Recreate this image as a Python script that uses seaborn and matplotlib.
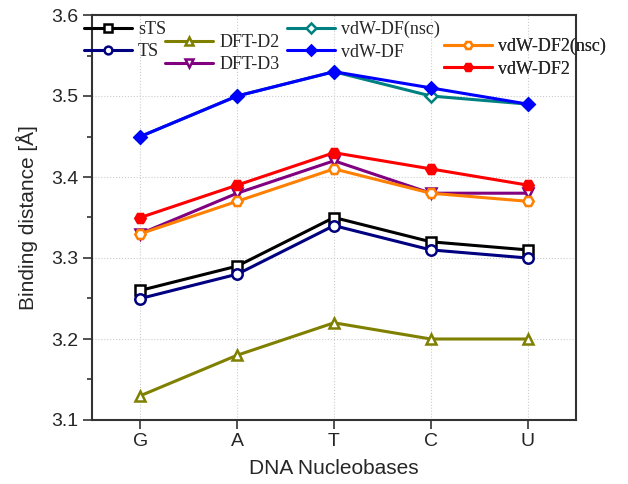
import numpy as np
import pandas as pd
import seaborn as sns
import matplotlib.pyplot as plt
from matplotlib.ticker import MultipleLocator

bases = ["G", "A", "T", "C", "U"]

sTS = [3.26, 3.29, 3.35, 3.32, 3.31]
TS = [3.25, 3.28, 3.34, 3.31, 3.30]
dft_d2 = [3.13, 3.18, 3.22, 3.20, 3.20]
dft_d3 = [3.33, 3.38, 3.42, 3.38, 3.38]
vdw_df_nsc = [3.45, 3.50, 3.53, 3.50, 3.49]
vdw_df = [3.45, 3.50, 3.53, 3.51, 3.49]
vdw_df2_nsc = [3.33, 3.37, 3.41, 3.38, 3.37]
vdw_df2 = [3.35, 3.39, 3.43, 3.41, 3.39]

# name, values, colour, marker, filled
series = [
    ("sTS", sTS, "black", "s", False),
    ("TS", TS, "#000080", "o", False),
    ("DFT-D2", dft_d2, "#808000", "^", False),
    ("DFT-D3", dft_d3, "#800080", "v", False),
    ("vdW-DF(nsc)", vdw_df_nsc, "#008080", "D", False),
    ("vdW-DF", vdw_df, "#0000FF", "D", True),
    ("vdW-DF2(nsc)", vdw_df2_nsc, "#FF8000", "H", False),
    ("vdW-DF2", vdw_df2, "#FF0000", "H", True),
]

sns.set_style("ticks")
plt.rcParams['font.family'] = ['Liberation Sans', 'DejaVu Sans']

W, H = 628, 484
fig = plt.figure(figsize=(W / 100, H / 100), dpi=100)
ax = fig.add_axes([92 / W, 1 - 420 / H, (576 - 92) / W, (420 - 15) / H])

x = np.arange(len(bases))
lines = {}
for name, vals, col, mk, filled in series:
    df = pd.DataFrame({"pos": x, "val": vals})
    sns.lineplot(data=df, x="pos", y="val", ax=ax, color=col, lw=2.2,
                 marker=mk, markersize=7.5 if mk != "D" else 6.5,
                 markeredgewidth=1.8, markeredgecolor=col,
                 markerfacecolor=col if filled else "white")
    lines[name] = ax.lines[-1]

ax.set_xlim(-0.5, 4.5)
ax.set_ylim(3.1, 3.6)
ax.set_xticks(x)
ax.set_xticklabels(bases)
ax.yaxis.set_major_locator(MultipleLocator(0.1))
ax.yaxis.set_minor_locator(MultipleLocator(0.05))
ax.yaxis.set_major_formatter(plt.FuncFormatter(lambda v, p: f"{v:.1f}"))
ax.tick_params(axis="both", labelsize=14, direction="out", length=6.5, width=1.2,
               color="#333333", pad=3)
ax.tick_params(axis="y", which="minor", direction="out", length=3.5, width=1.2, color="#333333")
ax.grid(True, which="major", ls=":", lw=0.8, color="#cccccc")
for s in ax.spines.values():
    s.set_linewidth(1.5)
    s.set_color("#333333")
ax.set_xlabel("DNA Nucleobases", fontsize=15, labelpad=6)
ax.set_ylabel("Binding distance [Å]", fontsize=15, labelpad=10)

groups = [
    (["sTS", "TS"], 84, 30),
    (["DFT-D2", "DFT-D3"], 165, 43),
    (["vdW-DF(nsc)", "vdW-DF"], 287, 30),
    (["vdW-DF2(nsc)", "vdW-DF2"], 444, 47),
]
for names, px, py in groups:
    leg = ax.legend([lines[n] for n in names], names, loc="upper left",
                    bbox_to_anchor=(px / W, 1 - (py - 9) / H),
                    bbox_transform=fig.transFigure, frameon=False,
                    borderpad=0, borderaxespad=0, handlelength=2.65,
                    handletextpad=0.35, labelspacing=0.3, markerscale=0.75,
                    prop={"family": "Liberation Serif", "size": 13})
    ax.add_artist(leg)

plt.savefig("out.png", dpi=100)
